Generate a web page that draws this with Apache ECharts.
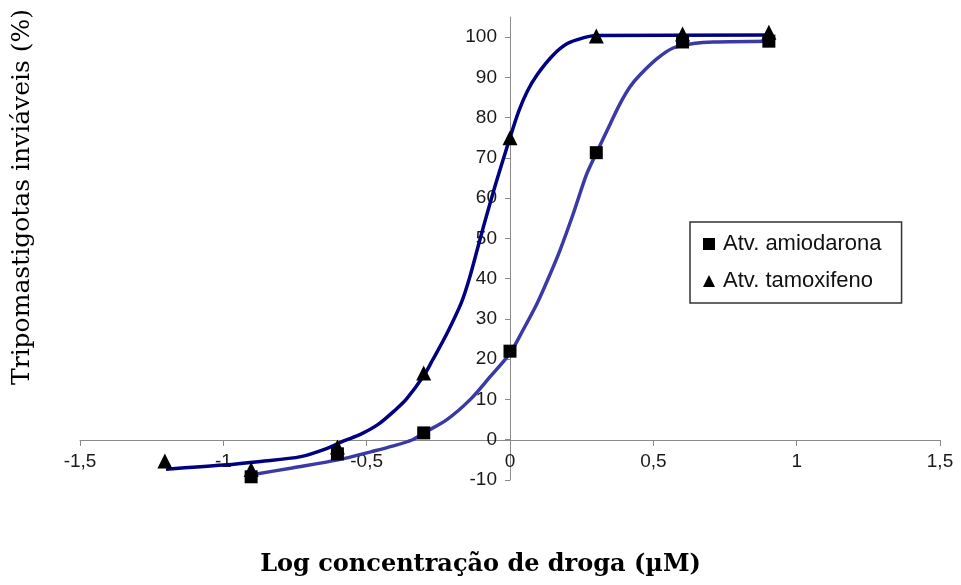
<!DOCTYPE html>
<html>
<head>
<meta charset="utf-8">
<script src="https://cdn.jsdelivr.net/npm/echarts@6/dist/echarts.min.js"></script>
<style>html,body{margin:0;padding:0;background:#fff}#c{width:961px;height:585px}</style>
</head>
<body>
<div id="c"></div>
<script>
// Measured points (log concentration, % non-viable)
const amioPoints = [[-0.903,-9.2],[-0.602,-3.5],[-0.301,1.7],[0,22],[0.301,71.3],[0.602,98.8],[0.903,99]];
const tamoxPoints = [[-1.204,-5.3],[-0.903,-7.4],[-0.602,-1.8],[-0.301,16.6],[0,75],[0.301,100.3],[0.602,100.8],[0.903,101.2]];
// Fitted curves
const amioCurve = [[-0.9,-8.7],[-0.76,-7],[-0.6,-5],[-0.48,-2.9],[-0.41,-1.6],[-0.34,0],[-0.3,1.7],[-0.22,5],[-0.14,9.9],[-0.07,15.6],[0,21.5],[0.045,27.2],[0.094,33.8],[0.13,39.5],[0.174,47],[0.22,56],[0.267,65.9],[0.3,71],[0.35,78.5],[0.384,83.5],[0.42,87.8],[0.453,90.6],[0.512,94.6],[0.569,97.3],[0.64,98.4],[0.71,98.8],[0.91,99]];
const tamoxCurve = [[-1.2,-7.3],[-1.0,-6.3],[-0.87,-5.4],[-0.73,-4.2],[-0.64,-2.2],[-0.58,-0.3],[-0.52,1.4],[-0.46,3.8],[-0.4,7.4],[-0.36,10.2],[-0.3,16],[-0.27,19.8],[-0.22,26.4],[-0.17,34],[-0.14,40.5],[-0.1,51],[-0.05,63.5],[0,75],[0.03,81.5],[0.06,86.5],[0.094,90.6],[0.15,95.5],[0.2,98.4],[0.255,99.8],[0.3,100.4],[0.91,100.5]];
const yTicks = [-10,0,10,20,30,40,50,60,70,80,90,100];
const seriesNames = ['Atv. amiodarona','Atv. tamoxifeno'];
const xTitle = 'Log concentração de droga (µM)';
const yTitle = 'Tripomastigotas inviáveis (%)';

const chart = echarts.init(document.getElementById('c'));
const axisCol = '#8a8a8a';
const lblStyle = {color:'#1a1a1a', fontFamily:'Liberation Sans, Arial, sans-serif', fontSize:19};
chart.setOption({
  animation:false,
  backgroundColor:'#fff',
  grid:{left:80, right:21, top:17, bottom:105},
  xAxis:{type:'value', min:-1.5, max:1.5, interval:0.5, position:'bottom', offset:-40,
    axisLine:{onZero:false, lineStyle:{color:axisCol,width:1}},
    axisTick:{show:true, length:6, lineStyle:{color:axisCol}},
    axisLabel:Object.assign({margin:12, formatter:v=>String(v).replace('.',',')}, lblStyle),
    splitLine:{show:false}},
  yAxis:{type:'value', min:-10, max:105, position:'left', offset:-430,
    axisLine:{show:true, onZero:false, lineStyle:{color:axisCol,width:1}},
    axisTick:{show:true, length:5, customValues:yTicks, lineStyle:{color:axisCol}},
    axisLabel:Object.assign({margin:13, customValues:yTicks}, lblStyle),
    splitLine:{show:false}},
  legend:{left:690, top:222, orient:'vertical', data:seriesNames,
    backgroundColor:'#fff', borderColor:'#333', borderWidth:1.5, padding:[11,20,11,13],
    itemGap:15, itemWidth:12, itemHeight:12,
    textStyle:{color:'#111', fontFamily:'Liberation Sans, Arial, sans-serif', fontSize:22, padding:[0,0,0,3]}},
  graphic:[
    {type:'text', left:'center', top:553, style:{text:xTitle, fill:'#000', font:'bold 24px "DejaVu Serif", serif'}},
    {type:'text', rotation:Math.PI/2, x:10, y:385, style:{text:yTitle, fill:'#000', font:'25px "DejaVu Serif", serif', textAlign:'left', textVerticalAlign:'top'}}
  ],
  series:[
    {name:'curve amio', type:'line', data:amioCurve, smooth:0.3, showSymbol:false, lineStyle:{color:'#3a3aa6', width:3.5}, z:2},
    {name:'curve tamox', type:'line', data:tamoxCurve, smooth:0.3, showSymbol:false, lineStyle:{color:'#000080', width:3.5}, z:2},
    {name:seriesNames[0], type:'scatter', data:amioPoints, symbol:'rect', symbolSize:13, itemStyle:{color:'#000', opacity:1}, z:5},
    {name:seriesNames[1], type:'scatter', data:tamoxPoints, symbol:'triangle', symbolSize:15, itemStyle:{color:'#000', opacity:1}, z:6}
  ]
});
</script>
</body>
</html>
